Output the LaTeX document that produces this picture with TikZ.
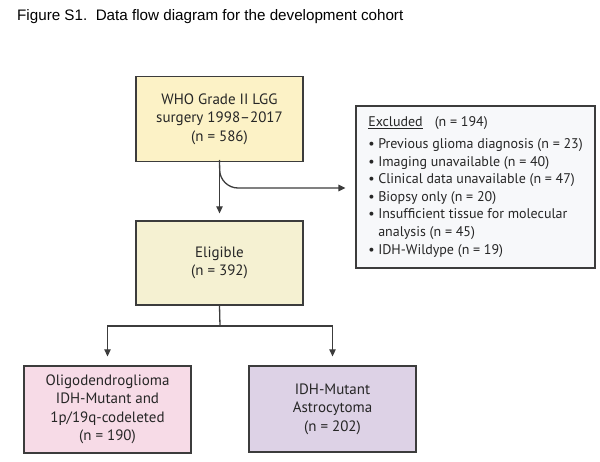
\documentclass[tikz,border=0pt]{standalone}
\usepackage{fontspec}
\setmainfont{PT Sans}
\newfontfamily\titlefont{Liberation Sans}
\usetikzlibrary{arrows.meta}
\definecolor{edgec}{HTML}{3C3C3C}
\definecolor{topfill}{HTML}{FCF2C6}
\definecolor{eligfill}{HTML}{F5F1D2}
\definecolor{exclfill}{HTML}{F7F8FA}
\definecolor{pinkfill}{HTML}{F7DBE7}
\definecolor{lavfill}{HTML}{DDD2E6}
\tikzset{
  boxnode/.style={draw=edgec, line width=1.3pt, rectangle, align=center, inner sep=0pt,
    font=\fontsize{15}{18.5}\selectfont, text=black!85},
  conn/.style={draw=edgec, line width=1.3pt},
  arr/.style={conn, -{Triangle[length=7pt,width=6.5pt]}},
}
\newcommand{\blt}{\makebox[10pt][l]{•}}
\begin{document}
\begin{tikzpicture}[x=1pt,y=-1pt]
\useasboundingbox[fill=white] (0,0) rectangle (600,462);
\node[anchor=base west, font=\titlefont\fontsize{15.2}{17}\selectfont, inner sep=0pt] (title) at (17,21) {Figure S1.\ \ Data flow diagram for the development cohort};
\node[boxnode, fill=topfill, minimum width=167pt, minimum height=85pt] (top) at (219.5,119)
  {WHO Grade II LGG\\surgery 1998--2017\\(n = 586)};
\node[boxnode, fill=eligfill, minimum width=167pt, minimum height=84pt] (elig) at (219.5,263)
  {Eligible\\(n = 392)};
\node[boxnode, fill=exclfill, line width=1.1pt, minimum width=239pt, minimum height=162pt, align=left, font=\fontsize{14}{17.6}\selectfont] (excl) at (475.5,187)
  {\underline{Excluded}\hspace{12pt}(n = 194)\\[4pt]
  \blt Previous glioma diagnosis (n = 23)\\
  \blt Imaging unavailable (n = 40)\\
  \blt Clinical data unavailable (n = 47)\\
  \blt Biopsy only (n = 20)\\
  \blt Insufficient tissue for molecular\\
  \hspace*{10pt}analysis (n = 45)\\
  \blt IDH-Wildype (n = 19)};
\node[boxnode, fill=pinkfill, minimum width=167pt, minimum height=87pt] (oligo) at (107.5,409.5)
  {Oligodendroglioma\\IDH-Mutant and\\1p/19q-codeleted\\(n = 190)};
\node[boxnode, fill=lavfill, minimum width=167pt, minimum height=86pt] (astro) at (332.5,409)
  {IDH-Mutant\\Astrocytoma\\(n = 202)};
\coordinate (split) at (220,326);
\draw[arr, shorten >=7pt] (top.south) -- (elig.north);
\draw[arr, shorten >=10pt, rounded corners=18pt] (top.south |- 0,160) -- (220,188) -- (excl.west |- 0,188);
\draw[conn] (elig.south) -- (split);
\draw[arr, shorten >=9pt] (split) -| (oligo.north);
\draw[arr, shorten >=9pt] (split) -| (astro.north);
\end{tikzpicture}
\end{document}
